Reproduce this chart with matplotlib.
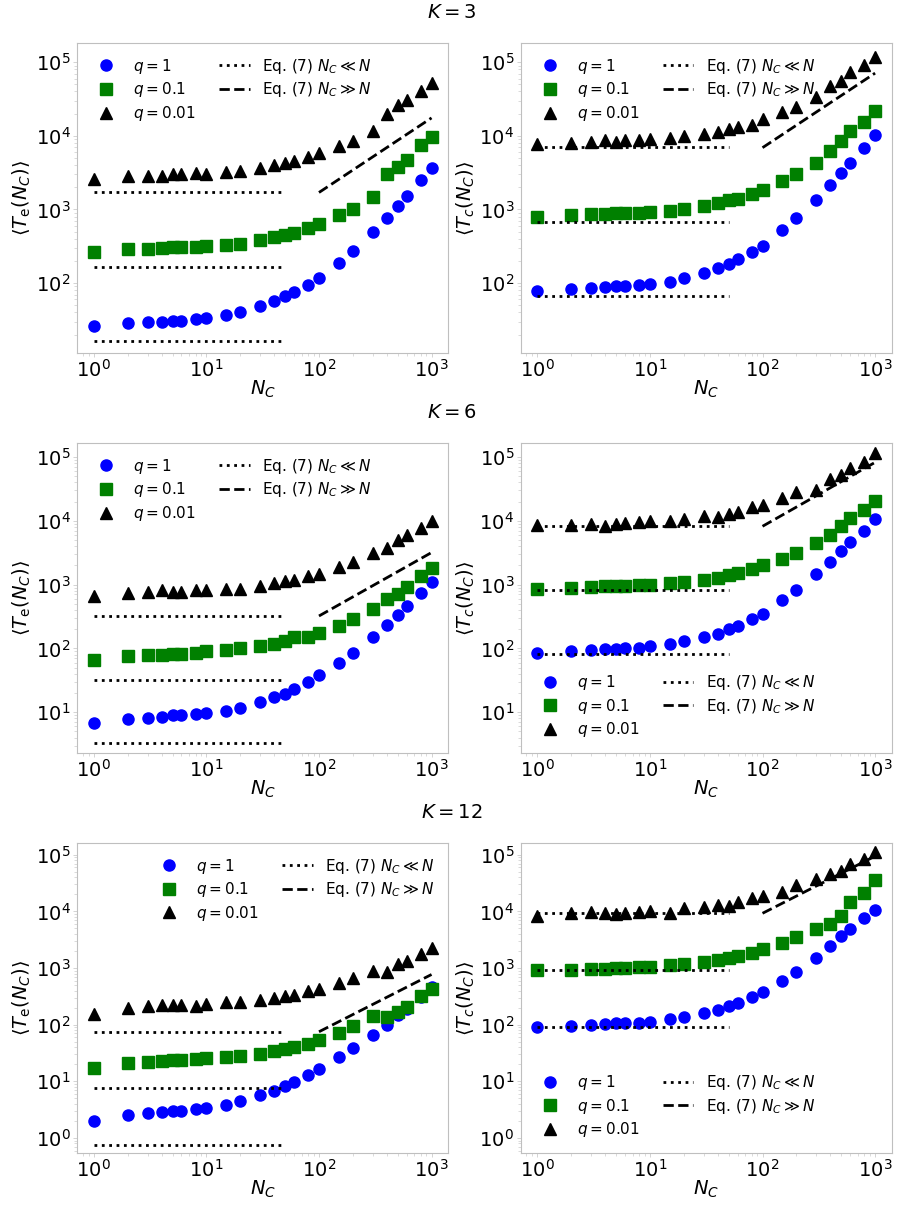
import matplotlib.pyplot as plt
from matplotlib.lines import Line2D

nc = [1, 2, 3, 4, 5, 6, 8, 10, 15, 20, 30, 40, 50, 60, 80, 100,
      150, 200, 300, 400, 500, 600, 800, 1000]

# K = 3
te3_q1 = [26.5, 29, 29.4, 30, 31, 31, 32.6, 34, 37, 41, 49, 56.5, 66, 75, 95, 119,
          190, 273, 489, 764, 1110, 1515, 2490, 3700]
te3_q01 = [262, 288, 294, 297, 306, 306, 313, 323, 330, 343, 381, 418, 449, 484, 553, 631,
           837, 1000, 1469, 3060, 3770, 4740, 7480, 9770]
te3_q001 = [2620, 2850, 2880, 2880, 3000, 3000, 3130, 3060, 3260, 3300, 3660, 4060, 4230, 4550, 5150, 5770,
            7330, 8470, 11560, 19800, 26500, 30600, 41000, 52600]
tc3_q1 = [78.8, 83.8, 84.7, 88.3, 90, 90, 95, 98, 105, 116, 139, 160, 182, 211, 268, 323,
          526, 755, 1350, 2130, 3160, 4230, 6810, 10300]
tc3_q01 = [795, 837, 855, 864, 891, 901, 901, 930, 959, 1020, 1120, 1220, 1325, 1390, 1610, 1863,
           2415, 3000, 4270, 6270, 8370, 11600, 15400, 22000]
tc3_q001 = [7800, 7960, 8130, 8650, 8210, 8650, 8830, 9010, 9390, 10000, 10640, 11100, 12400, 13100, 14200, 17000,
            20900, 24900, 33300, 47400, 56000, 74000, 91000, 118000]

# K = 6
te6_q1 = [6.8, 7.85, 8.15, 8.55, 8.87, 8.87, 9.3, 9.64, 10.6, 11.8, 14.2, 17, 19.6, 22.7, 29.2, 37.7,
          58.9, 85.5, 152, 235, 338, 457, 748, 1100]
te6_q01 = [66.4, 74.8, 77.6, 78.6, 80.5, 82.4, 84.5, 89.8, 93, 103, 109, 118, 132, 151, 151, 176,
           224, 285, 410, 589, 723, 908, 1370, 1850]
te6_q001 = [656, 749, 758, 815, 777, 777, 815, 815, 865, 865, 964, 1075, 1127, 1169, 1370, 1490,
            1890, 2300, 3140, 3770, 4970, 5960, 7670, 10000]
tc6_q1 = [85.5, 90.8, 93, 97.6, 98.9, 101, 102, 109, 116, 130, 151, 170, 199, 227, 292, 351,
          568, 815, 1450, 2240, 3340, 4570, 6970, 10500]
tc6_q01 = [865, 887, 919, 941, 952, 964, 977, 1000, 1040, 1100, 1200, 1290, 1400, 1520, 1780, 2040,
           2560, 3180, 4510, 6090, 8140, 11000, 14700, 20800]
tc6_q001 = [8550, 8550, 8750, 8240, 8970, 9310, 9530, 9890, 9800, 10500, 11800, 11600, 12600, 13800, 16200, 17600,
            22400, 27900, 30300, 45100, 51500, 66400, 84500, 114000]

# K = 12
te12_q1 = [2.03, 2.59, 2.77, 2.89, 2.97, 3.05, 3.22, 3.4, 3.89, 4.46, 5.62, 6.7, 8.22, 9.68, 13.1, 16.2,
           26.5, 38.2, 66.7, 98.9, 147, 193, 310, 472]
te12_q01 = [17.1, 21.3, 21.9, 23.1, 23.7, 23.7, 24.4, 25.4, 26.8, 27.9, 30.7, 33.8, 37.2, 40.9, 46.2, 53.7,
            72.4, 95, 143, 134, 170, 206, 323, 435]
te12_q001 = [157, 200, 215, 221, 224, 224, 215, 230, 250, 250, 274, 301, 323, 332, 396, 424,
             541, 654, 895, 859, 1170, 1310, 1770, 2220]
tc12_q1 = [91.2, 96.2, 97.6, 102, 106, 106, 109, 113, 125, 137, 159, 185, 215, 246, 314, 380,
           595, 859, 1520, 2480, 3630, 4960, 7660, 10800]
tc12_q01 = [931, 931, 944, 957, 984, 1010, 1030, 1040, 1110, 1190, 1290, 1400, 1480, 1650, 1810, 2160,
            2770, 3530, 4900, 6090, 8200, 14900, 21000, 36100]
tc12_q001 = [8200, 9270, 9780, 9520, 9020, 9400, 9660, 10200, 9520, 11700, 12200, 13000, 12300, 14500, 17300, 19000,
             21800, 29400, 37600, 45500, 52800, 67500, 84900, 114000]

# Eq. (7): plateau levels (q = 1, 0.1, 0.01) for N_C << N, and endpoints for N_C >> N
small_x = [1, 50]
large_x = [100, 1000]
te3_small = [16.6, 168, 1715]
te3_large = [1700, 17500]
tc3_small = [67.4, 681, 6950]
tc3_large = [6900, 71000]
te6_small = [3.26, 32.2, 322]
te6_large = [322, 3180]
tc6_small = [80.5, 815, 8240]
tc6_large = [8200, 82400]
te12_small = [0.76, 7.58, 75.4]
te12_large = [75, 770]
tc12_small = [91.2, 919, 9270]
tc12_large = [9270, 94700]

k_labels = ['$K = 3$', '$K = 6$', '$K = 12$']
q_labels = ['$q = 1$', '$q = 0.1$', '$q = 0.01$']
eq_labels = ['Eq. (7) $N_C \\ll N$', 'Eq. (7) $N_C \\gg N$']
row_ylims = [(10**1.05, 10**5.26), (10**0.36, 10**5.22), (10**-0.265, 10**5.21)]

panels = [
    [(te3_q1, te3_q01, te3_q001, te3_small, te3_large, 'upper left'),
     (tc3_q1, tc3_q01, tc3_q001, tc3_small, tc3_large, 'upper left')],
    [(te6_q1, te6_q01, te6_q001, te6_small, te6_large, 'upper left'),
     (tc6_q1, tc6_q01, tc6_q001, tc6_small, tc6_large, 'lower left')],
    [(te12_q1, te12_q01, te12_q001, te12_small, te12_large, 'upper right'),
     (tc12_q1, tc12_q01, tc12_q001, tc12_small, tc12_large, 'lower left')],
]

plt.rcParams['mathtext.fontset'] = 'dejavusans'

fig, axes = plt.subplots(3, 2, figsize=(8.97, 12.05), dpi=100)
fig.subplots_adjust(left=0.0858, right=0.9944, top=0.9643, bottom=0.0432,
                    wspace=0.194, hspace=0.29)

styles = [('o', 'blue'), ('s', 'green'), ('^', 'black')]

for r in range(3):
    for c in range(2):
        ax = axes[r, c]
        q1, q01, q001, small, large, loc = panels[r][c]
        for ys, (m, col), lab in zip([q1, q01, q001], styles, q_labels):
            ax.plot(nc, ys, linestyle='', marker=m, color=col, markersize=8, label=lab)
        for lev in small:
            ax.plot(small_x, [lev, lev], ':', color='black', lw=2)
        ax.plot(large_x, large, '--', color='black', lw=2)
        ax.set_xscale('log')
        ax.set_yscale('log')
        ax.set_ylim(*row_ylims[r])
        ax.set_xlabel('$N_C$', fontsize=14, labelpad=-2)
        if c == 0:
            ax.set_ylabel(r'$\langle T_{\rm e}(N_C)\rangle$', fontsize=14, labelpad=2)
        else:
            ax.set_ylabel(r'$\langle T_c(N_C)\rangle$', fontsize=14, labelpad=2)
        ax.tick_params(which='both', colors='#cccccc', labelcolor='black', labelsize=14, pad=1.5)
        ax.tick_params(which='major', length=3, width=0.6)
        ax.tick_params(which='minor', length=2, width=0.5)
        for sp in ax.spines.values():
            sp.set_color('#bfbfbf')

        handles = [
            Line2D([], [], linestyle='', marker='o', color='blue', markersize=8),
            Line2D([], [], linestyle='', marker='s', color='green', markersize=8),
            Line2D([], [], linestyle='', marker='^', color='black', markersize=8),
            Line2D([], [], linestyle=':', color='black', lw=2),
            Line2D([], [], linestyle='--', color='black', lw=2),
        ]
        ax.legend(handles, q_labels + eq_labels, loc=loc, ncol=2, frameon=False,
                  fontsize=11, columnspacing=1.5, labelspacing=0.3)

for r, lab in enumerate(k_labels):
    y = 1 - (13 + 400 * r) / 1205
    fig.text(0.504, y, lab, ha='center', va='center', fontsize=14)

fig.savefig('out.png', dpi=100)
